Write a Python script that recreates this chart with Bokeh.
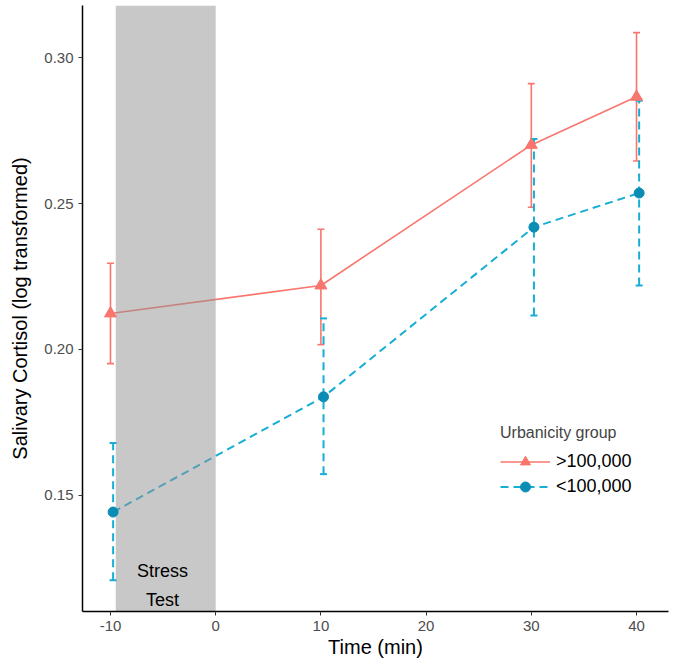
from bokeh.plotting import figure
from bokeh.models import (ColumnDataSource, Whisker, TeeHead, FixedTicker, Legend,
                          LegendItem, Range1d, NumeralTickFormatter, CDSView, IndexFilter)
from bokeh.transform import dodge
from bokeh.core.properties import value
from bokeh.embed import file_html
from bokeh.resources import INLINE

# ---- data ----
time = [-10, 10, 30, 40]
high_mean = [0.2123, 0.2219, 0.2701, 0.2866]
high_lower = [0.1951, 0.2016, 0.2487, 0.2646]
high_upper = [0.2295, 0.2412, 0.2911, 0.3086]
low_mean = [0.1442, 0.1837, 0.2419, 0.2536]
low_lower = [0.1208, 0.1572, 0.2116, 0.2219]
low_upper = [0.1679, 0.2106, 0.2721, 0.2852]
x_ticks = [-10, 0, 10, 20, 30, 40]
y_ticks = [0.15, 0.20, 0.25, 0.30]
stress_start, stress_end = -9.5, 0
stress_lines = ["Stress", "Test"]
group_labels = [">100,000", "<100,000"]
legend_title = "Urbanicity group"
x_label = "Time (min)"
y_label = "Salivary Cortisol (log transformed)"

FONT = "Liberation Sans"
RED = "#F8766D"
BLUE_LINE = "#17AED6"
BLUE_PT = "#0A8DB5"
Y0, Y1 = 0.1101, 0.3179

p = figure(width=672, height=660, output_backend="svg", toolbar_location=None,
           x_range=Range1d(-12.66, 43.04), y_range=Range1d(Y0, Y1),
           min_border_left=82, min_border_right=4, min_border_top=5, min_border_bottom=40)
p.outline_line_color = None
p.grid.visible = False
p.background_fill_color = "white"

hi = ColumnDataSource(dict(t=time, m=high_mean, lo=high_lower, up=high_upper))
lo = ColumnDataSource(dict(t=time, m=low_mean, lo=low_lower, up=low_upper))

hi_x = dodge("t", 0.0, range=None)
lo_x = dodge("t", 0.25, range=None)

# lines
r_hi_line = p.line(x=hi_x, y="m", source=hi, line_color=RED, line_width=1.6)
r_lo_line = p.line(x=lo_x, y="m", source=lo, line_color=BLUE_LINE, line_width=2,
                   line_dash="8 5")

# error bars
w_hi = Whisker(source=hi, base=hi_x, upper="up", lower="lo", line_color=RED, line_width=1.6,
               upper_head=TeeHead(size=7, line_color=RED, line_width=1.6),
               lower_head=TeeHead(size=7, line_color=RED, line_width=1.6))
w_lo = Whisker(source=lo, base=lo_x, upper="up", lower="lo", line_color=BLUE_LINE, line_width=2,
               line_dash="8 5",
               upper_head=TeeHead(size=7, line_color=BLUE_LINE, line_width=2),
               lower_head=TeeHead(size=7, line_color=BLUE_LINE, line_width=2))
p.add_layout(w_hi)
p.add_layout(w_lo)

# stress region (drawn over lines, translucent)
p.quad(left=[stress_start], right=[stress_end], bottom=[Y0], top=[Y1],
       fill_color="#919191", fill_alpha=0.5, line_color=None)

# markers
r_hi_pt = p.scatter(x=hi_x, y="m", source=hi, marker="triangle", size=12,
                    fill_color=RED, line_color=RED)
r_lo_pt = p.scatter(x=lo_x, y="m", source=lo, marker="circle", size=10,
                    fill_color=BLUE_PT, line_color=BLUE_PT)

# stress text
p.text(x=[(stress_start + stress_end) / 2 - 0.3] * 2, y=[0.1239, 0.1142], text=stress_lines,
       text_font=value(FONT), text_font_size="18px", text_color="black",
       text_align="center", text_baseline="middle")

# legend key backgrounds (glyph only shown in legend; all rows filtered out of the plot)
bg = p.rect(x="t", y="m", source=hi, view=CDSView(filter=IndexFilter(indices=[])),
            width=1, height=1, fill_color="#F2F2F2", line_color=None)

legend = Legend(items=[
    LegendItem(label=group_labels[0], renderers=[bg, r_hi_line, r_hi_pt]),
    LegendItem(label=group_labels[1], renderers=[bg, r_lo_line, r_lo_pt]),
], location=(418, 112), title=legend_title)
legend.title_text_font = FONT
legend.title_text_font_size = "16px"
legend.title_text_font_style = "normal"
legend.title_standoff = 7
legend.label_text_font = FONT
legend.label_text_font_size = "18px"
legend.label_text_color = "black"
legend.glyph_width = 50
legend.glyph_height = 25
legend.label_standoff = 6
legend.spacing = 0
legend.padding = 0
legend.margin = 0
legend.border_line_color = None
legend.background_fill_alpha = 0
p.add_layout(legend)

# axes
for ax in (p.xaxis[0], p.yaxis[0]):
    ax.axis_line_color = "black"
    ax.axis_line_width = 1.5
    ax.major_tick_line_color = "#333333"
    ax.major_tick_line_width = 1
    ax.major_tick_out = 4
    ax.major_tick_in = 0
    ax.minor_tick_line_color = None
    ax.major_label_text_font = FONT
    ax.major_label_text_font_size = "15px"
    ax.major_label_text_color = "#4D4D4D"
    ax.axis_label_text_font = FONT
    ax.axis_label_text_font_size = "20px"
    ax.axis_label_text_font_style = "normal"
    ax.axis_label_text_color = "black"

p.xaxis.ticker = FixedTicker(ticks=x_ticks)
p.yaxis.ticker = FixedTicker(ticks=y_ticks)
p.xaxis.formatter = NumeralTickFormatter(format="0")
p.yaxis.formatter = NumeralTickFormatter(format="0.00")
p.xaxis.axis_label = x_label
p.yaxis.axis_label = y_label
p.xaxis.major_label_standoff = 5
p.xaxis.axis_label_standoff = 2
p.yaxis.major_label_standoff = 5
p.yaxis.axis_label_standoff = 10

open("out.html", "w").write(file_html(p, INLINE))
